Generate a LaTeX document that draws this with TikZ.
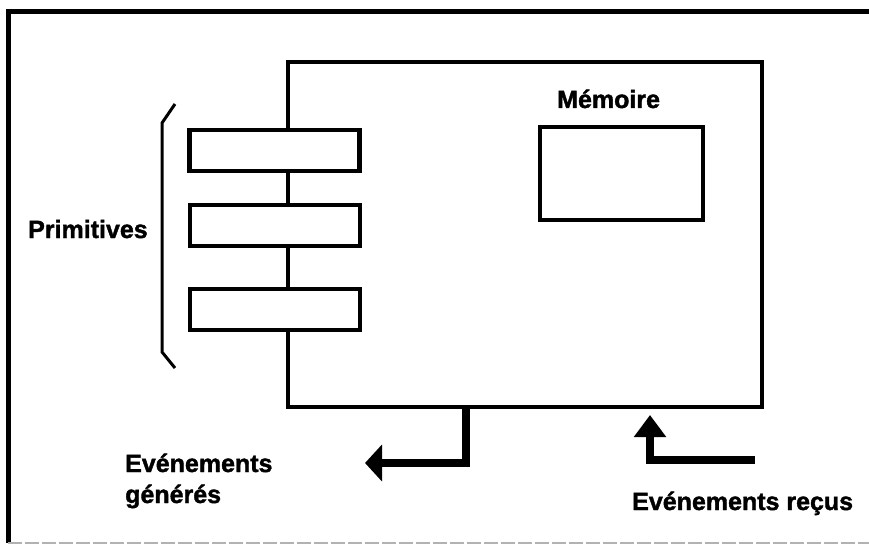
\documentclass[tikz,border=0pt]{standalone}
\usepackage{fontspec}
\setmainfont{Liberation Sans}[BoldFeatures={FakeBold=1.5}]
\usetikzlibrary{arrows.meta}
\begin{document}
\begin{tikzpicture}[x=1pt,y=-1pt,
  lbl/.style={font=\fontsize{25}{30}\selectfont\bfseries, anchor=base west, inner sep=0pt},
  primbox/.style={draw, line width=4.5pt, fill=white, minimum width=170pt, minimum height=41pt, inner sep=0pt},
  membox/.style={draw, line width=4.5pt, minimum width=163pt, minimum height=93pt, inner sep=0pt},
  mainbox/.style={draw, line width=3.5pt, minimum width=474pt, minimum height=345pt, inner sep=0pt},
  fatarrow/.style={line width=8pt},
]
\useasboundingbox (0,0) rectangle (869,545);
% outer frame
\draw[line width=5pt] (8,543) -- (8,12) -- (872,12);
\draw[line width=1.8pt, gray!60, dash pattern=on 14pt off 3pt] (8,543) -- (869,543);

% main box
\node[mainbox] (main) at (525,234.5) {};
% primitives
\node[primbox] (p1) at (274.5,150.5) {};
\node[primbox] (p2) at (275,225.5) {};
\node[primbox] (p3) at (275,309.5) {};
% bracket
\coordinate (bt) at (175,104);
\coordinate (bb) at (175,368);
\draw[line width=3pt, line join=miter] (bt) -- (162,123) -- (162,352) -- (bb);
\node[lbl] (prim) at (28,238) {Primitives};

% memory
\node[membox] (mem) at (621.5,173.5) {};
\node[lbl] (memlbl) at (557,108) {Mémoire};

% generated events arrow
\coordinate (g0) at (main.south -| 466,0);
\coordinate (g1) at (466,463);
\coordinate (g2) at (365,463);
\draw[fatarrow, -{Triangle[length=17pt,width=36pt]}] (g0) -- (g1) -- (g2);
\node[lbl] (gen1) at (125,472) {Evénements};
\node[lbl] (gen2) at (125,503) {générés};

% received events arrow
\coordinate (r0) at (755,460);
\coordinate (r1) at (650,460);
\coordinate (r2) at (650,415);
\draw[fatarrow, -{Triangle[length=22pt,width=31pt]}] (r0) -- (r1) -- (r2);
\node[lbl] (rec) at (632,510) {Evénements reçus};
\end{tikzpicture}
\end{document}
